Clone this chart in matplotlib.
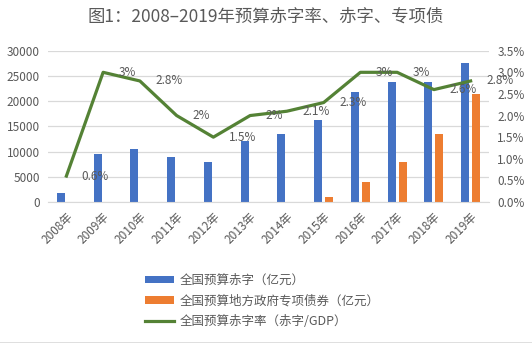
import matplotlib
matplotlib.use("Agg")
import matplotlib.pyplot as plt
import numpy as np
from matplotlib.ticker import FuncFormatter, MultipleLocator
from matplotlib.lines import Line2D

plt.rcParams['font.family'] = ['Noto Sans CJK SC', 'DejaVu Sans']

years = ["2008年", "2009年", "2010年", "2011年", "2012年", "2013年",
         "2014年", "2015年", "2016年", "2017年", "2018年", "2019年"]
deficit = [1800, 9500, 10500, 9000, 8000, 12000, 13500, 16200, 21800, 23800, 23800, 27600]
special_bonds = [0, 0, 0, 0, 0, 0, 0, 1000, 4000, 8000, 13500, 21500]
deficit_rate = [0.6, 3.0, 2.8, 2.0, 1.5, 2.0, 2.1, 2.3, 3.0, 3.0, 2.6, 2.8]
rate_labels = ["0.6%", "3%", "2.8%", "2%", "1.5%", "2%", "2.1%", "2.3%", "3%", "3%", "2.6%", "2.8%"]
series_names = ["全国预算赤字（亿元）", "全国预算地方政府专项债券（亿元）", "全国预算赤字率（赤字/GDP）"]
title = "图1：2008–2019年预算赤字率、赤字、专项债"

blue = "#4472C4"
orange = "#ED7D31"
green = "#548235"
gray = "#595959"

fig = plt.figure(figsize=(5.32, 3.43), dpi=100)
ax = fig.add_axes([48/532, 1-202/343, (489-48)/532, (202-50.7)/343])
x = np.arange(len(years))
w = 0.22
off = 0.15
b1 = ax.bar(x - off, deficit, width=w, color=blue, label=series_names[0], zorder=2)
b2 = ax.bar(x + off, special_bonds, width=w, color=orange, label=series_names[1], zorder=2)
ax.set_ylim(0, 30000)
ax.set_xlim(-0.5, len(years) - 0.5)
ax.yaxis.set_major_locator(MultipleLocator(5000))
ax.grid(axis='y', color='#D9D9D9', linewidth=0.9, zorder=0)
ax.set_axisbelow(True)
for s in ['top', 'right', 'left']:
    ax.spines[s].set_visible(False)
ax.spines['bottom'].set_color('#D9D9D9')
ax.tick_params(axis='both', length=0, colors=gray, labelsize=8.5)
ax.set_xticks(x)
ax.set_xticklabels(years, rotation=45, ha='right', rotation_mode='anchor')
ax.tick_params(axis='x', pad=6)
ax.tick_params(axis='y', pad=6)

ax2 = ax.twinx()
l1, = ax2.plot(x, deficit_rate, color=green, linewidth=2.3, label=series_names[2], zorder=3)
ax2.set_ylim(0, 3.5)
ax2.yaxis.set_major_locator(MultipleLocator(0.5))
ax2.yaxis.set_major_formatter(FuncFormatter(lambda v, p: f"{v:.1f}%"))
for s in ['top', 'right', 'left', 'bottom']:
    ax2.spines[s].set_visible(False)
ax2.tick_params(axis='y', length=0, colors=gray, labelsize=8.5, pad=6)
for xi, yi, lab in zip(x, deficit_rate, rate_labels):
    ax2.text(xi + 0.42, yi, lab, ha='left', va='center', fontsize=8.5, color=gray, zorder=4)

fig.text(0.5, 1 - 17/343, title, ha='center', va='center', fontsize=12.5, color=gray)

leg = fig.legend(handles=[b1, b2, l1], labels=series_names, loc='upper left',
                 bbox_to_anchor=(145/532, 1 - 274/343), frameon=False, fontsize=9,
                 handlelength=2.3, handleheight=0.55, handletextpad=0.5,
                 labelspacing=0.6, borderpad=0, borderaxespad=0)
for t in leg.get_texts():
    t.set_color(gray)

fig.add_artist(Line2D([0, 1], [0.5/343, 0.5/343], transform=fig.transFigure, color='#D9D9D9', linewidth=1.2))

fig.savefig("out.png", dpi=100)
